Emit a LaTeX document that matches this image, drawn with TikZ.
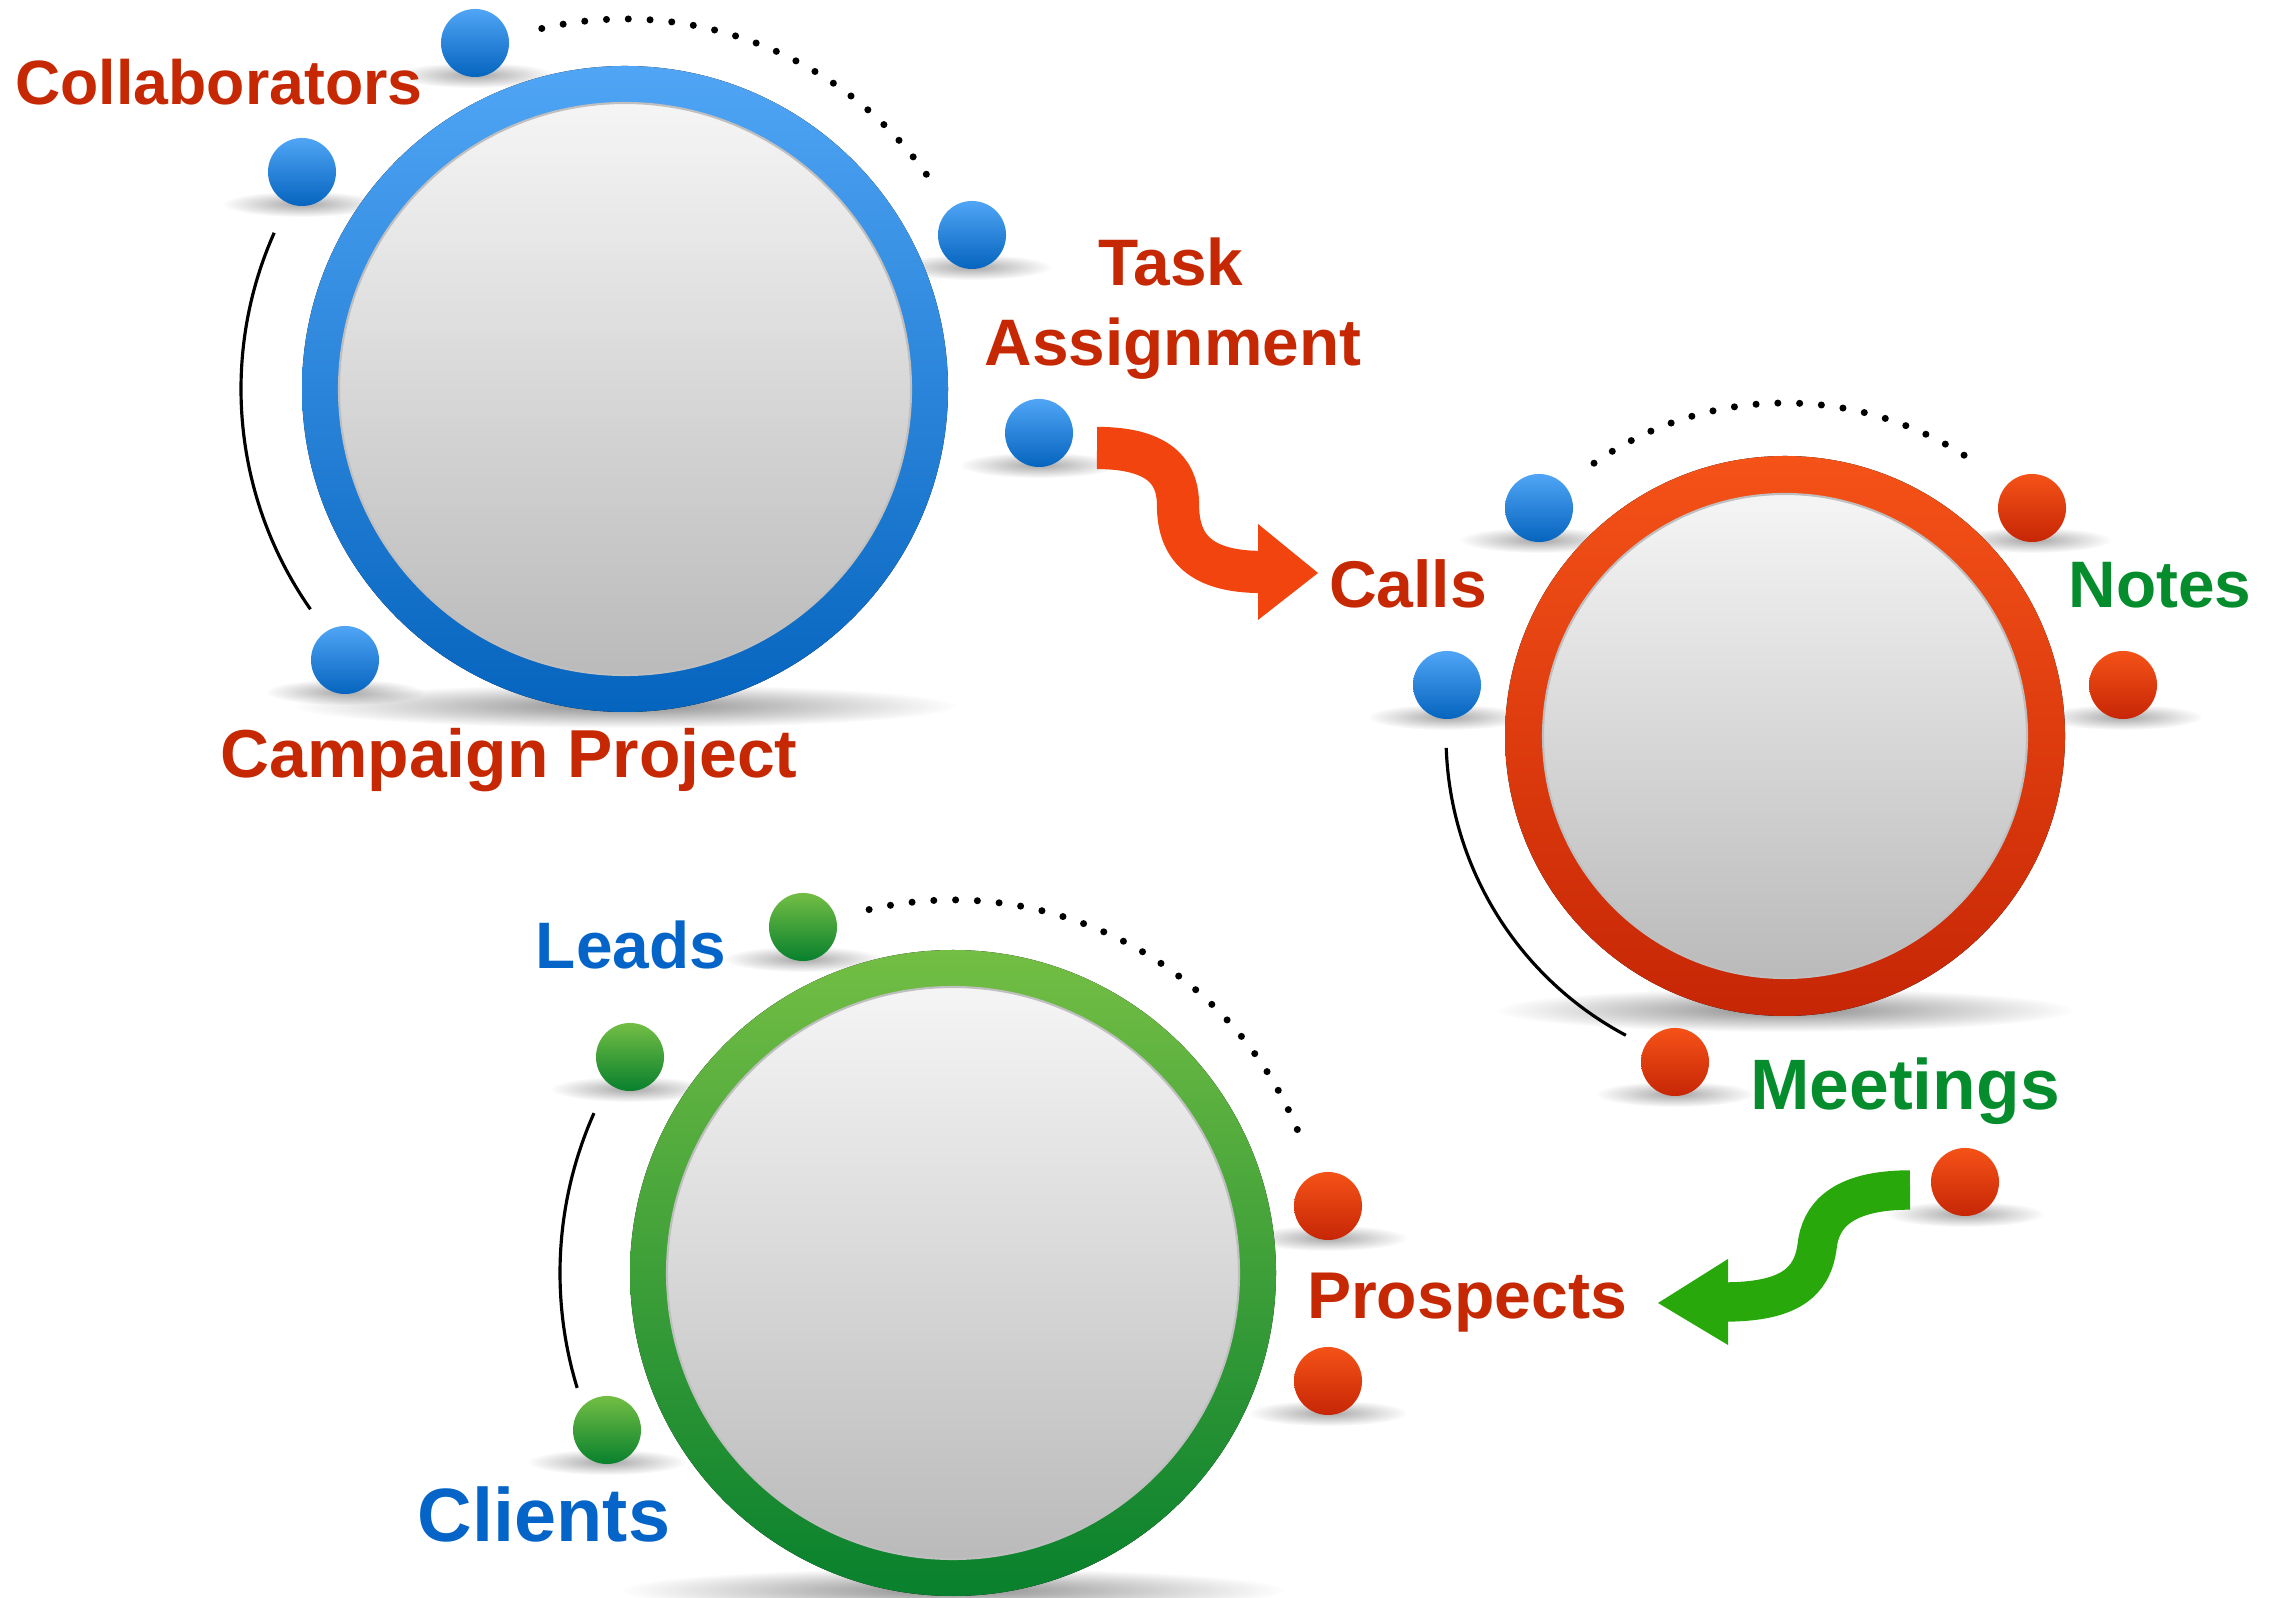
\documentclass[tikz,border=0pt]{standalone}
\usepackage{fontspec}
\setmainfont{Liberation Sans}
\usetikzlibrary{fadings, calc}
\pgfdeclarelayer{background}
\pgfsetlayers{background,main}

\definecolor{blueTop}{RGB}{80,165,245}
\definecolor{blueBot}{RGB}{5,100,190}
\definecolor{redTop}{RGB}{245,82,24}
\definecolor{redBot}{RGB}{198,38,5}
\definecolor{greenTop}{RGB}{115,190,68}
\definecolor{greenBot}{RGB}{8,128,45}
\definecolor{redText}{RGB}{198,40,4}
\definecolor{greenText}{RGB}{5,140,45}
\definecolor{blueText}{RGB}{5,100,200}
\definecolor{redArrow}{RGB}{242,68,14}
\definecolor{greenArrow}{RGB}{40,168,10}

\tikzfading[name=softspot, inner color=transparent!0, outer color=transparent!100]

\tikzset{
    ball/.style={circle, inner sep=0pt, minimum size=0.68cm},
    lbl/.style={font=\bfseries\fontsize{#1}{#1}\selectfont, anchor=base, inner sep=0pt},
    lblRed/.style={lbl={#1}, text=redText},
    lblGreen/.style={lbl={#1}, text=greenText},
    lblBlue/.style={lbl={#1}, text=blueText},
    dotline/.style={line width=2pt, line cap=round, dash pattern=on 0pt off 6.2pt},
    arcline/.style={line width=0.9pt}
}

\newcommand*{\ring}[6]{% x, y, outer radius, inner radius, colour prefix, name
    \begin{pgfonlayer}{background}
        \fill [black, opacity=0.45, path fading=softspot] (#1,#2-#3+6) ellipse [x radius=#3+10, y radius=22];
    \end{pgfonlayer}
    \coordinate (#6) at (#1,#2);
    \fill [top color=#5Top, bottom color=#5Bot] (#6) circle (#3);
    \fill [top color=black!4, bottom color=black!27] (#6) circle (#4);
    \draw [black!25, line width=0.6pt] (#6) circle (#4);
}
\newcommand*{\ball}[4]{% x, y, colour prefix, name
    \begin{pgfonlayer}{background}
        \fill [black, opacity=0.35, path fading=softspot] (#1,#2-32) ellipse [x radius=80, y radius=13];
    \end{pgfonlayer}
    \node [ball, top color=#3Top, bottom color=#3Bot] (#4) at (#1,#2) {};
}
\newcommand*{\orbit}[5]{% centre, start angle, end angle, radius, style
    \draw [#5] (#1) ++(#2:#4) arc [start angle=#2, end angle=#3, radius=#4];
}

\begin{document}
\begin{tikzpicture}[x=0.01cm, y=0.01cm]
\useasboundingbox (0,0) rectangle (2276,1597);

% campaign project
\ring{625}{1208}{323}{286}{blue}{blueC}
\ball{475}{1554}{blue}{b1}
\ball{302}{1425}{blue}{b2}
\ball{972}{1362}{blue}{b3}
\ball{1039}{1164}{blue}{b4}
\ball{345}{937}{blue}{b5}
\orbit{blueC}{103}{33}{370}{dotline}
\orbit{blueC}{156}{215}{384}{arcline}

% calls
\ring{1785}{861}{280}{242}{red}{redC}
\ball{1539}{1089}{blue}{r1}
\ball{1447}{912}{blue}{r2}
\ball{2032}{1089}{red}{r3}
\ball{2123}{912}{red}{r4}
\ball{1675}{535}{red}{r5}
\ball{1965}{415}{red}{r6}
\orbit{redC}{125}{54}{333}{dotline}
\orbit{redC}{182}{242}{339}{arcline}

% leads
\ring{953}{324}{323}{286}{green}{greenC}
\ball{803}{670}{green}{g1}
\ball{630}{540}{green}{g2}
\ball{607}{167}{green}{g3}
\ball{1328}{391}{red}{g4}
\ball{1328}{216}{red}{g5}
\orbit{greenC}{103}{19.5}{373}{dotline}
\orbit{greenC}{156}{197}{393}{arcline}

% labels
\node [lblRed=17.8] (collab) at (219,1492) {Collaborators};
\node [lblRed=18.7] (task) at (1171,1311) {Task};
\node [lblRed=18.7] (assign) at (1173,1231) {Assignment};
\node [lblRed=19.3] (campaign) at (509,819) {Campaign Project};
\node [lblRed=18.8] (calls) at (1408,989) {Calls};
\node [lblGreen=18.7] (notes) at (2160,989) {Notes};
\node [lblGreen=20.3] (meetings) at (1905,487) {Meetings};
\node [lblBlue=18.7] (leads) at (631,628) {Leads};
\node [lblBlue=21.5] (clients) at (544,55) {Clients};
\node [lblRed=18.8] (prospects) at (1467,278) {Prospects};

% arrows
\coordinate (redStart) at (1097,1149);
\coordinate (redEnd) at (1262,1025);
\coordinate (redTip) at (1318,1024);
\draw [redArrow, line width=12pt] (redStart) .. controls (1165,1149) and (1178,1120) .. (1178,1092)
    .. controls (1178,1050) and (1200,1025) .. (redEnd);
\fill [redArrow] ($(redEnd)+(-4,48)$) -- (redTip) -- ($(redEnd)+(-4,-48)$) -- cycle;

\coordinate (greenStart) at (1910,407);
\coordinate (greenEnd) at (1724,295);
\coordinate (greenTip) at (1658,294);
\draw [greenArrow, line width=11.2pt] (greenStart) .. controls (1840,407) and (1820,380) .. (1817,350)
    .. controls (1812,315) and (1790,295) .. (greenEnd);
\fill [greenArrow] ($(greenEnd)+(4,43)$) -- (greenTip) -- ($(greenEnd)+(4,-43)$) -- cycle;
\end{tikzpicture}
\end{document}
